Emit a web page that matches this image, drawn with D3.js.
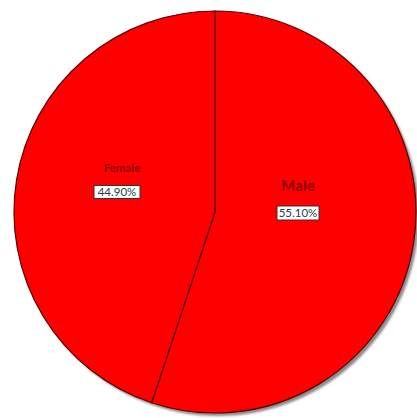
<!DOCTYPE html>
<html><head><meta charset="utf-8">
<script src="https://cdn.jsdelivr.net/npm/d3@7/dist/d3.min.js"></script>
<style>body{margin:0;background:#fff}svg{display:block}</style>
</head><body>
<script>
const categories = ["Male", "Female"];
const values = [55.10, 44.90];
const valueLabels = ["55.10%", "44.90%"];

const W = 417, H = 418, cx = 215, cy = 212, r = 201;
const svg = d3.select("body").append("svg").attr("width", W).attr("height", H);
const data = categories.map((c, i) => ({cat: c, value: values[i], label: valueLabels[i]}));
const pie = d3.pie().value(d => d.value).sort(null);
const arcs = pie(data);
const arc = d3.arc().innerRadius(0).outerRadius(r);

const defs = svg.append("defs");
const f = defs.append("filter").attr("id", "blur").attr("x", "-10%").attr("y", "-10%").attr("width", "120%").attr("height", "120%");
f.append("feGaussianBlur").attr("stdDeviation", 1.2);

// shadow
svg.append("circle").attr("cx", cx + 3).attr("cy", cy + 3).attr("r", r)
  .attr("fill", "#8a8a8a").attr("filter", "url(#blur)");

const g = svg.append("g").attr("transform", `translate(${cx},${cy})`);
g.selectAll("path").data(arcs).join("path")
  .attr("d", arc).attr("fill", "#ff0000")
  .attr("stroke", "#5a0000").attr("stroke-width", 1.2).attr("stroke-linejoin", "round");

const labelPos = {Male: {x: 83, y: -21, fs: 15, bx: 83, by: 1, bw: 42, bh: 14, pfs: 11.5},
                  Female: {x: -93, y: -40, fs: 11.5, bx: -98, by: -20, bw: 46, bh: 13, pfs: 11.5}};
arcs.forEach(a => {
  const p = labelPos[a.data.cat];
  g.append("text").attr("x", p.x).attr("y", p.y).attr("text-anchor", "middle")
    .attr("font-family", "Lato, sans-serif").attr("font-size", p.fs).attr("font-weight", "bold")
    .attr("fill", "#8b0000").text(a.data.cat);
  g.append("rect").attr("x", p.bx - p.bw / 2).attr("y", p.by - p.bh / 2)
    .attr("width", p.bw).attr("height", p.bh).attr("fill", "#fff")
    .attr("stroke", "#333").attr("stroke-width", 1);
  g.append("text").attr("x", p.bx).attr("y", p.by + 4).attr("text-anchor", "middle")
    .attr("font-family", "Lato, sans-serif").attr("font-size", p.pfs)
    .attr("fill", "#1f3f3f").text(a.data.label);
});
</script>
</body></html>
